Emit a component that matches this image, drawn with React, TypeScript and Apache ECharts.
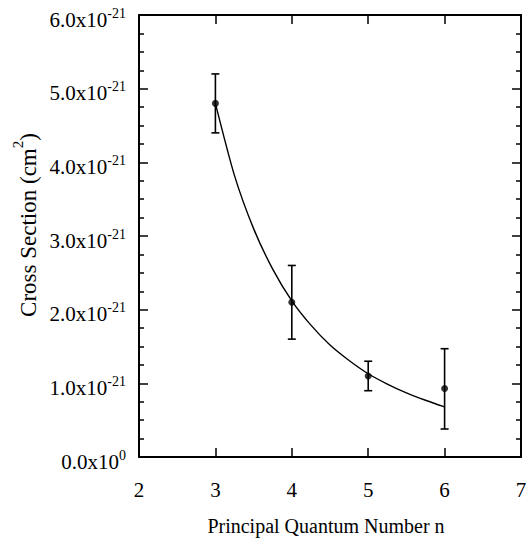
import React, { useEffect, useRef } from 'react';
import * as echarts from 'echarts';

const nValues = [3, 4, 5, 6];
const crossSection = [4.8, 2.1, 1.1, 0.93];
const errLow = [4.4, 1.6, 0.9, 0.38];
const errHigh = [5.2, 2.6, 1.3, 1.47];
const fitN = [3, 3.25, 3.5, 3.75, 4, 4.25, 4.5, 4.75, 5, 5.25, 5.5, 5.75, 6];
const fitValues = [4.8, 3.82, 3.1, 2.55, 2.12, 1.79, 1.52, 1.31, 1.13, 0.99, 0.87, 0.77, 0.68];
const xRange = [2, 7];
const yRange = [0, 6];
const yExponent = '-21';
const xTitle = 'Principal Quantum Number n';
const yTitle = 'Cross Section (cm';

const FONT = "'Times New Roman', 'Liberation Serif', 'DejaVu Serif', serif";

export default function App() {
  const ref = useRef<HTMLDivElement>(null);
  useEffect(() => {
    document.body.style.margin = '0';
    if (!ref.current) return;
    const chart = echarts.init(ref.current, undefined, { renderer: 'svg' });
    const axisLine = { show: true, onZero: false, lineStyle: { color: '#000', width: 2 } };
    const axisTick = { show: true, inside: true, length: 9, lineStyle: { color: '#000', width: 1.5 } };
    const minorTick = { show: true, splitNumber: 4, length: 5, lineStyle: { color: '#000', width: 1.5 } };
    const supRich = {
      a: { fontSize: 21, fontFamily: FONT, color: '#000', verticalAlign: 'bottom', padding: [3, 0, 0, 0] },
      b: { fontSize: 14, fontFamily: FONT, color: '#000', verticalAlign: 'top' },
    };
    const option: any = {
      animation: false,
      textStyle: { fontFamily: FONT },
      grid: { left: 139, right: 10, top: 15, bottom: 85, containLabel: false },
      xAxis: [
        {
          type: 'value', min: xRange[0], max: xRange[1], interval: 1, position: 'bottom',
          axisLine, axisTick, splitLine: { show: false },
          axisLabel: { margin: 22, fontSize: 21, fontFamily: FONT, color: '#000' },
        },
        {
          type: 'value', min: xRange[0], max: xRange[1], interval: 1, position: 'top',
          axisLine, axisTick, splitLine: { show: false }, axisLabel: { show: false },
        },
      ],
      yAxis: [
        {
          type: 'value', min: yRange[0], max: yRange[1], interval: 1, position: 'left',
          axisLine, axisTick, minorTick, splitLine: { show: false }, minorSplitLine: { show: false },
          axisLabel: {
            margin: 13, fontFamily: FONT, padding: [6, 0, 0, 0],
            formatter: (v: number) => (v === 0 ? `{a|0.0x10}{b|0}` : `{a|${v.toFixed(1)}x10}{b|${yExponent}}`),
            rich: supRich,
          },
        },
        {
          type: 'value', min: yRange[0], max: yRange[1], interval: 1, position: 'right',
          axisLine, axisTick, minorTick, splitLine: { show: false }, minorSplitLine: { show: false },
          axisLabel: { show: false },
        },
      ],
      graphic: [
        {
          type: 'text', x: 326, y: 526,
          style: { text: xTitle, fontSize: 20, fontFamily: FONT, fill: '#000', align: 'center', verticalAlign: 'middle' },
        },
        {
          type: 'text', x: 25, y: 225, rotation: Math.PI / 2,
          style: {
            text: `{a|${yTitle}}{b|2}{a|)}`,
            fontFamily: FONT,
            rich: {
              a: { fontSize: 23, fontFamily: FONT, fill: '#000', verticalAlign: 'bottom', padding: [6, 0, 0, 0] },
              b: { fontSize: 15, fontFamily: FONT, fill: '#000', verticalAlign: 'top' },
            },
            align: 'center', verticalAlign: 'middle',
          },
        },
      ],
      series: [
        {
          type: 'line', xAxisIndex: 0, yAxisIndex: 0, smooth: 0.25,
          showSymbol: false, symbol: 'none',
          lineStyle: { color: '#000', width: 1.4 },
          data: fitN.map((n, i) => [n, fitValues[i]]),
          z: 2,
        },
        {
          type: 'custom', xAxisIndex: 0, yAxisIndex: 0,
          data: nValues.map((n, i) => [n, errLow[i], errHigh[i]]),
          renderItem: (params: any, api: any) => {
            const lo = api.coord([api.value(0), api.value(1)]);
            const hi = api.coord([api.value(0), api.value(2)]);
            const w = 4;
            const st = { stroke: '#000', lineWidth: 1.6 };
            return {
              type: 'group',
              children: [
                { type: 'line', shape: { x1: lo[0], y1: lo[1], x2: hi[0], y2: hi[1] }, style: st },
                { type: 'line', shape: { x1: lo[0] - w, y1: lo[1], x2: lo[0] + w, y2: lo[1] }, style: st },
                { type: 'line', shape: { x1: hi[0] - w, y1: hi[1], x2: hi[0] + w, y2: hi[1] }, style: st },
              ],
            };
          },
          z: 3,
        },
        {
          type: 'scatter', xAxisIndex: 0, yAxisIndex: 0, symbol: 'circle', symbolSize: 7,
          itemStyle: { color: '#000' },
          data: nValues.map((n, i) => [n, crossSection[i]]),
          z: 4,
        },
      ],
    };
    chart.setOption(option);
    return () => chart.dispose();
  }, []);
  return <div ref={ref} style={{ width: 531, height: 542 }} />;
}
